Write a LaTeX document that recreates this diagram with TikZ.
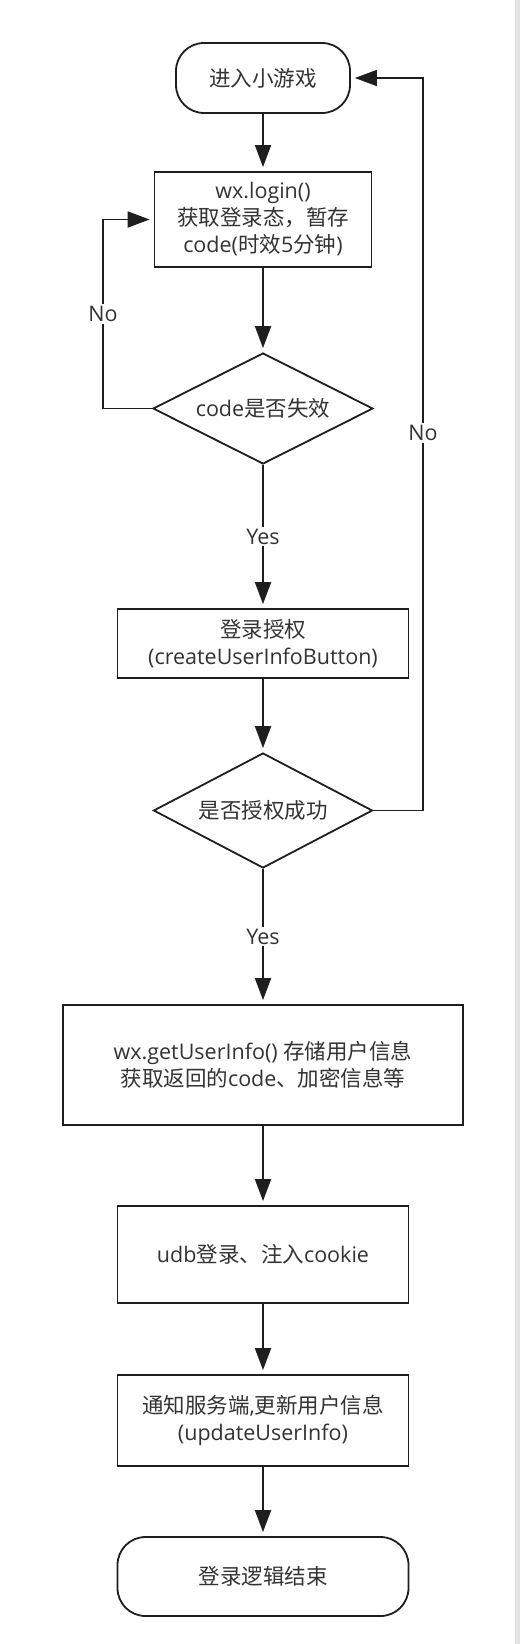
\documentclass[tikz,border=0pt]{standalone}
\usepackage{fontspec}
\setmainfont{Open Sans}
\newfontfamily\cjk{Noto Sans CJK SC}
\newcommand\zh[1]{{\cjk #1}}
\usetikzlibrary{arrows.meta,shapes.geometric}
\definecolor{ln}{HTML}{1E1E1E}
\definecolor{tx}{HTML}{333333}
\definecolor{stripe}{HTML}{E3E3E3}
\begin{document}
\begin{tikzpicture}[x=1pt,y=-1pt,
 every node/.style={font=\fontsize{21.5}{27}\selectfont, text=tx},
 box/.style={draw=ln, line width=1.8pt, rectangle, inner sep=0pt, align=center},
 term/.style={box, rounded corners=28pt},
 dia/.style={draw=ln, line width=1.8pt, diamond, inner sep=0pt, shape aspect=2, align=center},
 flow/.style={draw=ln, line width=1.8pt, -{Triangle[length=22pt,width=16pt]}, shorten >=4pt},
 lbl/.style={fill=white, inner sep=2pt}
]
\fill[white] (0,0) rectangle (515,1644);
\fill[stripe] (515,0) rectangle (520,1644);
\useasboundingbox (0,0) rectangle (520,1644);

\node[term, minimum width=174pt, minimum height=70pt] (start) at (263,78) {\zh{进入小游戏}};
\node[box, minimum width=217pt, minimum height=95pt] (login) at (263,219.5) {wx.login()\\\zh{获取登录态，暂存}\\code(\zh{时效}5\zh{分钟})};
\node[dia, minimum width=220pt, minimum height=111pt] (d1) at (263,408.5) {code\zh{是否失效}};
\node[box, minimum width=291pt, minimum height=69pt] (auth) at (263,643.5) {\zh{登录授权}\\(createUserInfoButton)};
\node[dia, minimum width=219pt, minimum height=115pt] (d2) at (263,810.5) {\zh{是否授权成功}};
\node[box, minimum width=400pt, minimum height=120pt] (info) at (263,1065) {wx.getUserInfo() \zh{存储用户信息}\\\zh{获取返回的}code\zh{、加密信息等}};
\node[box, minimum width=291pt, minimum height=97pt] (udb) at (263,1254.5) {udb\zh{登录、注入}cookie};
\node[box, minimum width=291pt, minimum height=91pt] (notify) at (263,1420.5) {\zh{通知服务端},\zh{更新用户信息}\\(updateUserInfo)};
\node[term, minimum width=291pt, minimum height=79pt] (end) at (263,1576.5) {\zh{登录逻辑结束}};

\coordinate (l1) at (103,408.5);
\coordinate (l2) at (103,219.5);
\coordinate (r1) at (423,810.5);
\coordinate (r2) at (423,78);

\draw[flow] (start) -- (login);
\draw[flow] (login) -- (d1);
\draw[flow] (d1) -- node[lbl]{Yes} (auth);
\draw[flow] (auth) -- (d2);
\draw[flow] (d2) -- node[lbl]{Yes} (info);
\draw[flow] (info) -- (udb);
\draw[flow] (udb) -- (notify);
\draw[flow] (notify) -- (end);
\draw[flow] (d1.west) -- (l1) -- node[lbl]{No} (l2) -- (login.west);
\draw[flow] (d2.east) -- (r1) -- node[lbl,pos=0.515]{No} (r2) -- (start.east);
\end{tikzpicture}
\end{document}
